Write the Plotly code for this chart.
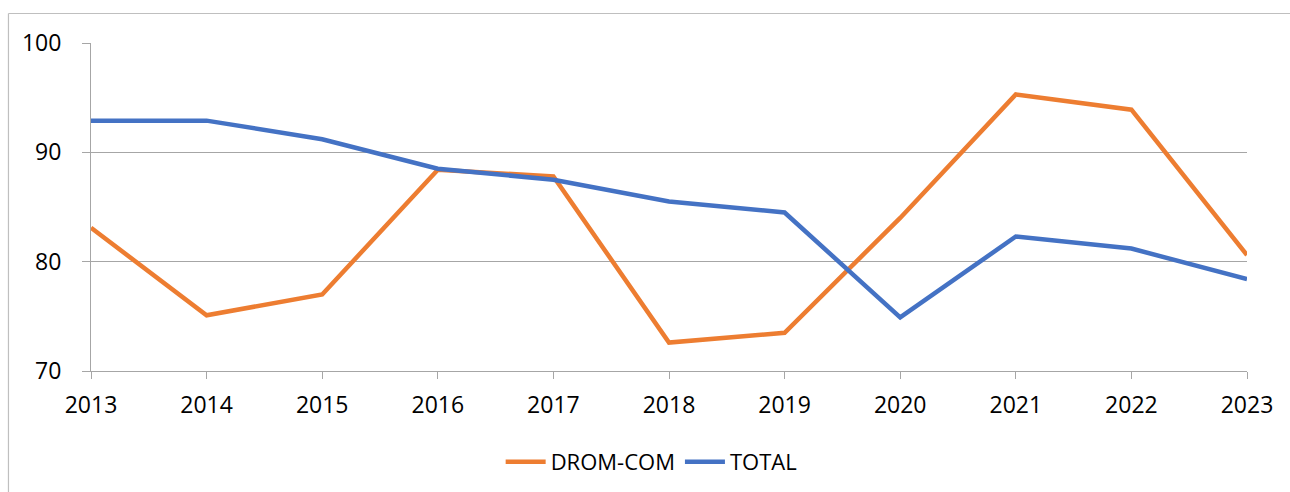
import plotly.graph_objects as go

# données
years = [2013, 2014, 2015, 2016, 2017, 2018, 2019, 2020, 2021, 2022, 2023]
drom_com = [83.1, 75.1, 77.0, 88.4, 87.8, 72.6, 73.5, 84.0, 95.3, 93.9, 80.6]
total = [92.9, 92.9, 91.2, 88.5, 87.5, 85.5, 84.5, 74.9, 82.3, 81.2, 78.4]

ORANGE = '#ED7D31'
BLUE = '#4472C4'
GRID = '#a6a6a6'
FONT = 'Open Sans'

fig = go.Figure()

fig.add_trace(go.Scatter(
    x=years, y=drom_com, mode='lines', name='DROM-COM',
    line=dict(color=ORANGE, width=4.5)
))
fig.add_trace(go.Scatter(
    x=years, y=total, mode='lines', name='TOTAL',
    line=dict(color=BLUE, width=4.5)
))

# cadre du graphique : seuls les bords gauche et haut sont visibles
border = dict(color='#bfbfbf', width=1.2)
fig.add_shape(type='line', xref='paper', yref='paper',
              x0=-0.0714, x1=-0.0714, y0=-0.6, y1=1.0899,
              line=border, layer='below')
fig.add_shape(type='line', xref='paper', yref='paper',
              x0=-0.0714, x1=1.3, y0=1.0899, y1=1.0899,
              line=border, layer='below')

fig.update_layout(
    width=1290, height=492,
    margin=dict(l=91, r=43, t=43, b=121),
    paper_bgcolor='white',
    plot_bgcolor='white',
    font=dict(family=FONT, size=23, color='black'),
    showlegend=True,
    legend=dict(
        orientation='h', x=0.485, xanchor='center',
        yref='container', y=0.061, yanchor='middle',
        font=dict(size=22), itemwidth=40,
        bgcolor='rgba(0,0,0,0)'
    ),
    xaxis=dict(
        range=[2013, 2023],
        tickmode='array', tickvals=years,
        ticks='outside', ticklen=7, tickcolor=GRID, tickwidth=1,
        showline=True, linecolor=GRID, linewidth=1,
        showgrid=False, zeroline=False, automargin=False,
        ticklabelstandoff=6,
        tickfont=dict(size=23)
    ),
    yaxis=dict(
        range=[70, 100], dtick=10,
        ticks='outside', ticklen=8, tickcolor=GRID, tickwidth=1,
        showline=True, linecolor=GRID, linewidth=1,
        showgrid=True, gridcolor=GRID, gridwidth=1,
        zeroline=False, automargin=False,
        ticklabelstandoff=16,
        tickfont=dict(size=23)
    ),
)

# pas de marge ni de barres de défilement autour du graphique
page_css = ("document.body.style.margin='0';"
            "document.body.style.overflow='hidden';"
            "document.documentElement.style.overflow='hidden';")
fig.write_html("out.html", config={'displayModeBar': False},
               post_script=page_css)
